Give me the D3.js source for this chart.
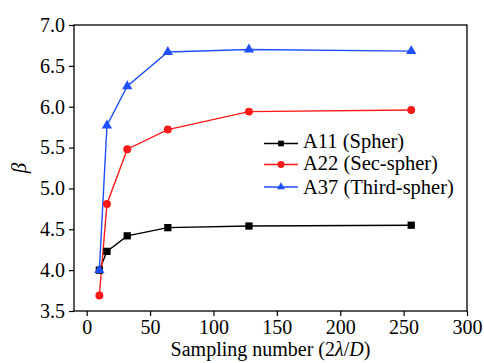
<!DOCTYPE html>
<html>
<head>
<meta charset="utf-8">
<script src="https://cdn.jsdelivr.net/npm/d3@7"></script>
<style>
  body { margin: 0; background: #fff; }
</style>
</head>
<body>
<svg width="484" height="363"></svg>
<script>
const samplingNumbers = [10, 16, 32, 64, 128, 256];
const a11 = [4.00, 4.23, 4.42, 4.52, 4.54, 4.55];
const a22 = [3.69, 4.81, 5.48, 5.72, 5.94, 5.96];
const a37 = [4.00, 5.77, 6.25, 6.67, 6.70, 6.68];
const xTicks = [0, 50, 100, 150, 200, 250, 300];
const yTicks = [3.5, 4.0, 4.5, 5.0, 5.5, 6.0, 6.5, 7.0];

const series = [
  { name: "A11 (Spher)", values: a11, color: "#000000", shape: "square" },
  { name: "A22 (Sec-spher)", values: a22, color: "#ff1a1a", shape: "circle" },
  { name: "A37 (Third-spher)", values: a37, color: "#1f4fff", shape: "triangle" }
];

const FONT = "Liberation Serif";

const svg = d3.select("svg");
const margin = { left: 74, right: 17, top: 25, bottom: 52 };
const width = 484 - margin.left - margin.right;
const height = 363 - margin.top - margin.bottom;

const g = svg.append("g").attr("transform", `translate(${margin.left},${margin.top})`);

const x = d3.scaleLinear().domain([-10, 300]).range([0, width]);
const y = d3.scaleLinear().domain([3.5, 7.0]).range([height, 0]);

// frame
g.append("rect")
  .attr("width", width).attr("height", height)
  .attr("fill", "none").attr("stroke", "#000").attr("stroke-width", 1.3);

const xAxis = g.append("g")
  .attr("transform", `translate(0,${height})`)
  .call(d3.axisBottom(x).tickValues(xTicks).tickSize(5).tickPadding(4).tickFormat(d3.format("d")));
const yAxis = g.append("g")
  .call(d3.axisLeft(y).tickValues(yTicks).tickSize(5).tickPadding(4).tickFormat(d3.format(".1f")));

[xAxis, yAxis].forEach(a => {
  a.attr("font-family", FONT).attr("font-size", 20);
  a.select(".domain").remove();
  a.selectAll("line").attr("stroke", "#000").attr("stroke-width", 1.2);
  a.selectAll("text").attr("fill", "#000");
});

function symbolFor(shape, size) {
  const t = shape === "square" ? d3.symbolSquare : shape === "circle" ? d3.symbolCircle : d3.symbolTriangle;
  return d3.symbol().type(t).size(size)();
}
const markerSize = { square: 53, circle: 50, triangle: 46 };
const legendSize = { square: 32, circle: 38, triangle: 28 };

const line = d3.line()
  .x((d, i) => x(samplingNumbers[i]))
  .y(d => y(d));

series.forEach(s => {
  g.append("path")
    .datum(s.values)
    .attr("fill", "none")
    .attr("stroke", s.color)
    .attr("stroke-width", 1.4)
    .attr("d", line);
});
series.forEach(s => {
  g.selectAll(null)
    .data(s.values)
    .enter()
    .append("path")
    .attr("transform", (d, i) => `translate(${x(samplingNumbers[i])},${y(d)})`)
    .attr("d", symbolFor(s.shape, markerSize[s.shape]))
    .attr("fill", s.color);
});

// legend
const rowLineY = [143.5, 164.5, 187];
const rowTextY = [147.5, 170, 193.5];
const legend = svg.append("g").attr("transform", "translate(264,0)");
series.forEach((s, i) => {
  legend.append("line").attr("x1", 0).attr("x2", 34).attr("y1", rowLineY[i]).attr("y2", rowLineY[i])
    .attr("stroke", s.color).attr("stroke-width", 1.4);
  legend.append("path").attr("transform", `translate(17,${rowLineY[i]})`)
    .attr("d", symbolFor(s.shape, legendSize[s.shape])).attr("fill", s.color);
  legend.append("text").attr("x", 39).attr("y", rowTextY[i])
    .attr("font-family", FONT).attr("font-size", 20.5).attr("fill", "#000").text(s.name);
});

// axis titles
const xt = svg.append("text")
  .attr("x", margin.left + width / 2).attr("y", 356)
  .attr("text-anchor", "middle")
  .attr("font-family", FONT).attr("font-size", 20);
xt.append("tspan").text("Sampling number (2");
xt.append("tspan").attr("font-style", "italic").text("λ");
xt.append("tspan").text("/");
xt.append("tspan").attr("font-style", "italic").text("D");
xt.append("tspan").text(")");

svg.append("text")
  .attr("transform", "translate(26,168) rotate(-90)")
  .attr("text-anchor", "middle")
  .attr("font-family", FONT).attr("font-size", 21).attr("font-style", "italic")
  .text("β");
</script>
</body>
</html>
